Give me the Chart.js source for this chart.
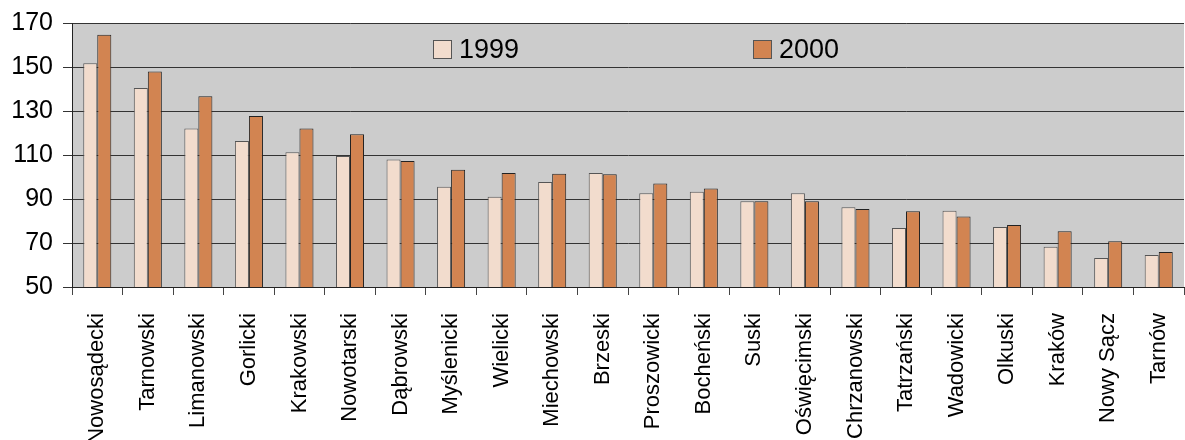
<!DOCTYPE html>
<html>
<head>
<meta charset="utf-8">
<script src="https://cdn.jsdelivr.net/npm/chart.js@4"></script>
<style>
html,body{margin:0;padding:0;background:#fff;}
#wrap{width:1185px;height:440px;position:relative;}
</style>
</head>
<body>
<div id="wrap"><canvas id="c" width="1185" height="440"></canvas></div>
<script>
const categories = ["Nowosądecki","Tarnowski","Limanowski","Gorlicki","Krakowski","Nowotarski","Dąbrowski","Myślenicki","Wielicki","Miechowski","Brzeski","Proszowicki","Bocheński","Suski","Oświęcimski","Chrzanowski","Tatrzański","Wadowicki","Olkuski","Kraków","Nowy Sącz","Tarnów"];
const values1999 = [151.7,140.5,122.0,116.4,111.2,109.5,107.9,95.6,91.0,97.7,101.8,92.6,93.3,89.0,92.6,86.2,76.8,84.7,77.3,68.3,63.2,64.5];
const values2000 = [164.7,147.9,136.7,127.7,122.1,119.4,107.3,103.3,101.8,101.5,101.2,97.1,94.8,89.0,89.0,85.5,84.4,82.1,78.2,75.3,70.8,65.9];
const seriesLabels = ["1999","2000"];
const yTicks = [50,70,90,110,130,150,170];

const FONT = "'Liberation Sans', Arial, sans-serif";

const bgPlugin = {
  id: 'plotBg',
  beforeDraw(chart) {
    const {ctx, chartArea: a} = chart;
    ctx.save();
    ctx.fillStyle = '#cccccc';
    ctx.fillRect(a.left, a.top, a.right - a.left, a.bottom - a.top);
    ctx.restore();
  }
};

const legendPlugin = {
  id: 'innerLegend',
  afterDraw(chart) {
    const {ctx} = chart;
    const xs = [433, 753];
    ctx.save();
    ctx.font = "27px " + FONT;
    ctx.textBaseline = 'middle';
    chart.data.datasets.forEach((ds, i) => {
      const x = xs[i], y = 40;
      ctx.fillStyle = ds.backgroundColor;
      ctx.fillRect(x, y, 19, 19);
      ctx.strokeStyle = '#555';
      ctx.lineWidth = 1;
      ctx.strokeRect(x + 0.5, y + 0.5, 18, 18);
      ctx.fillStyle = '#000';
      ctx.fillText(ds.label, x + 26, y + 10.5);
    });
    ctx.restore();
  }
};

new Chart(document.getElementById('c'), {
  type: 'bar',
  data: {
    labels: categories,
    datasets: [
      {label: seriesLabels[0], data: values1999, backgroundColor: '#f2dccd', borderColor: '#555555', borderWidth: 1, borderSkipped: 'bottom'},
      {label: seriesLabels[1], data: values2000, backgroundColor: '#d28451', borderColor: '#222222', borderWidth: 1, borderSkipped: 'bottom'}
    ]
  },
  options: {
    responsive: false,
    animation: false,
    devicePixelRatio: 1,
    layout: {padding: {top: 23, right: 1, left: 0, bottom: 0}},
    datasets: {bar: {categoryPercentage: 0.555, barPercentage: 1.0}},
    plugins: {legend: {display: false}, tooltip: {enabled: false}},
    scales: {
      x: {
        grid: {display: true, drawOnChartArea: false, drawTicks: true, tickLength: 8, color: '#444', offset: true},
        border: {display: true, color: '#222', width: 1},
        ticks: {color: '#000', font: {family: FONT, size: 22}, minRotation: 90, maxRotation: 90, padding: 18, autoSkip: false},
        afterFit(scale) { scale.height = 153; scale.paddingLeft = 0; scale.paddingRight = 0; }
      },
      y: {
        min: 50, max: 170,
        afterBuildTicks(scale) { scale.ticks = yTicks.map(v => ({value: v})); },
        grid: {color: '#333', lineWidth: 1, drawTicks: true, tickLength: 9},
        border: {display: true, color: '#222', width: 1},
        ticks: {color: '#000', font: {family: FONT, size: 25}, padding: 10},
        afterFit(scale) { scale.width = 72; scale.paddingTop = 0; scale.paddingBottom = 0; }
      }
    }
  },
  plugins: [bgPlugin, legendPlugin]
});
</script>
</body>
</html>
